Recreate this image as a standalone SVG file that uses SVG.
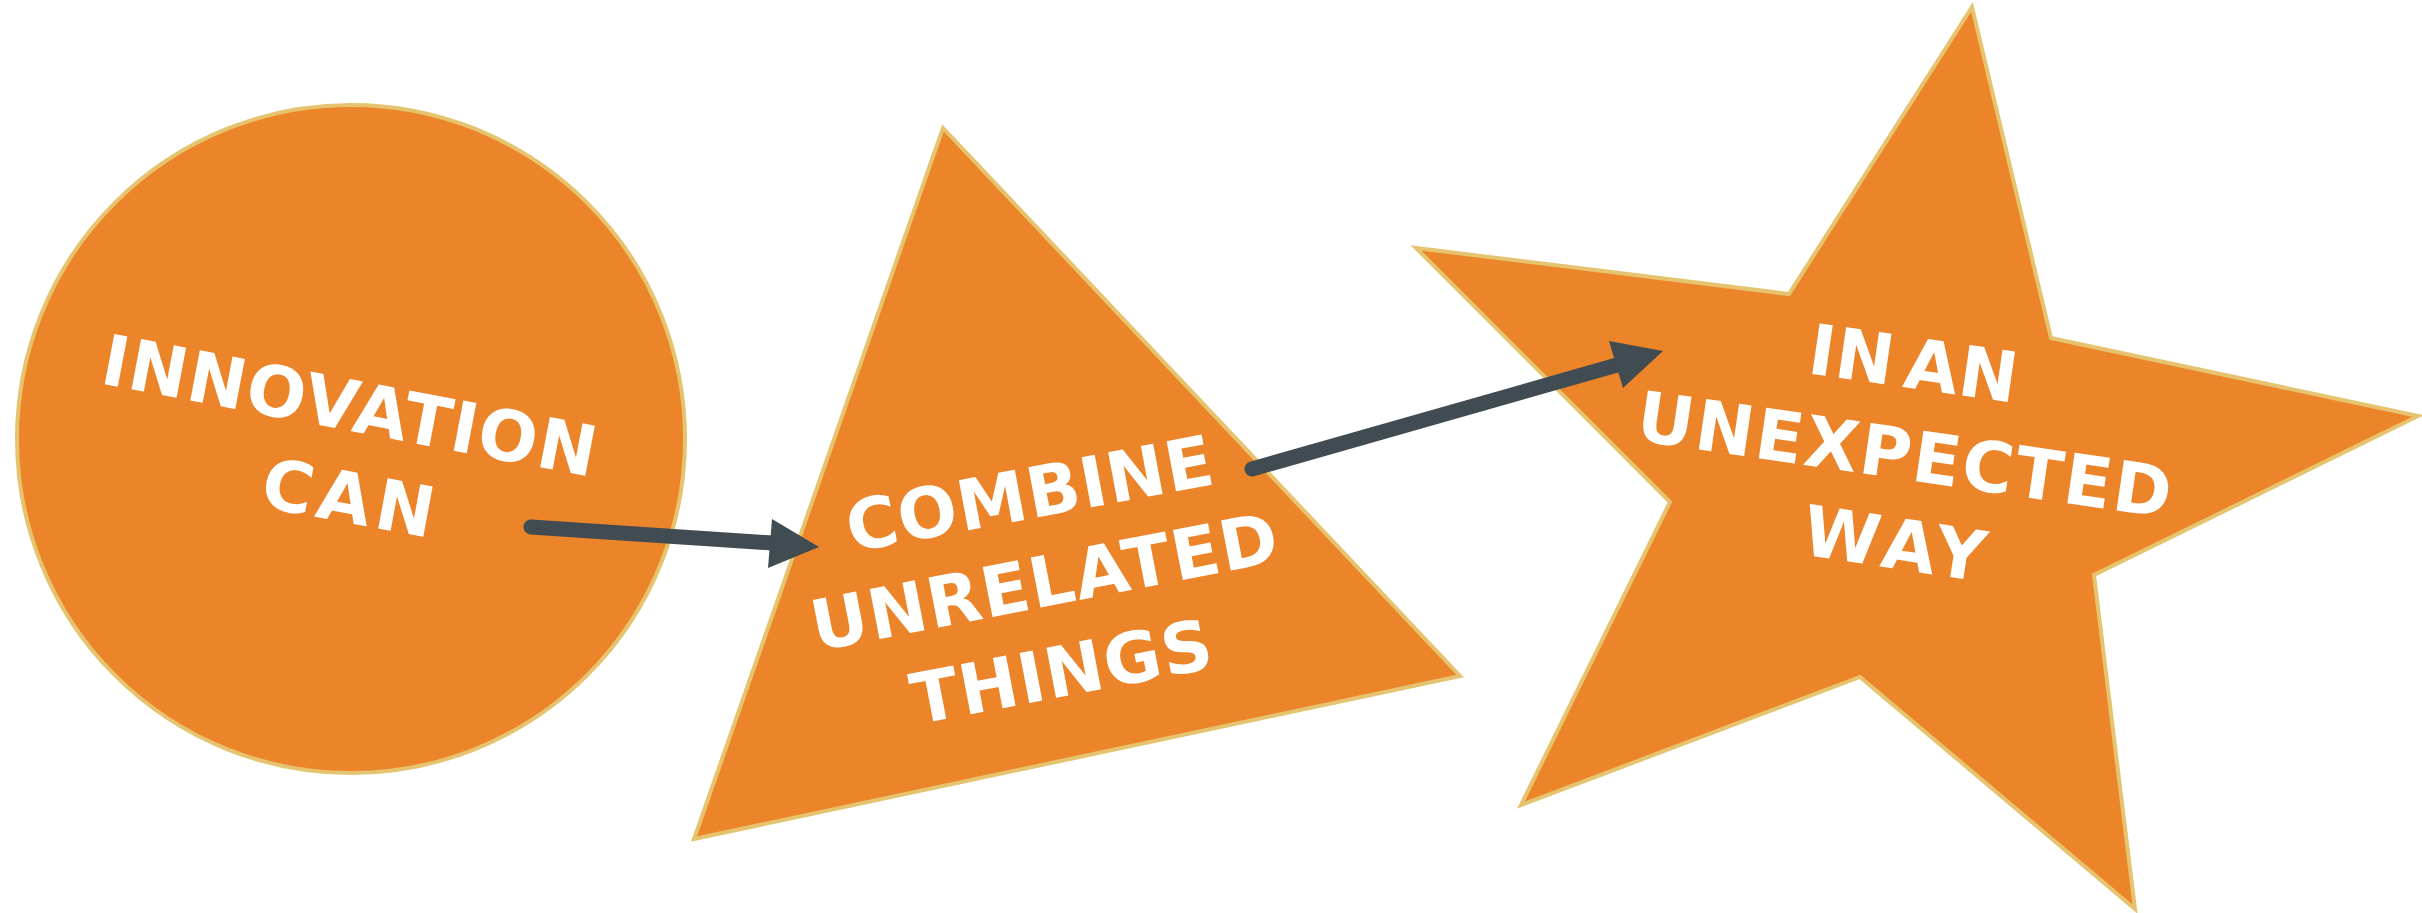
<svg xmlns="http://www.w3.org/2000/svg" width="2422" height="913" viewBox="0 0 2422 913">
  <defs>
    <style>
      .shape { fill: #EC8429; stroke: #E6C36F; stroke-width: 4; stroke-linejoin: miter; }
      .label { fill: #FFFFFF; font-family: "DejaVu Sans", "Liberation Sans", sans-serif; font-weight: bold; font-size: 70px; text-anchor: middle; }
      .conn { stroke: #414B52; stroke-width: 15; stroke-linecap: round; fill: none; }
      .head { fill: #414B52; }
    </style>
  </defs>
  <rect width="2422" height="913" fill="#FFFFFF"/>

  <g id="node-innovation">
    <circle class="shape" cx="351" cy="439" r="334"/>
    <text class="label" transform="translate(345,430) rotate(10.8)" textLength="502" lengthAdjust="spacing">INNOVATION</text>
    <text class="label" transform="translate(344,522) rotate(10.5)" textLength="174" lengthAdjust="spacing">CAN</text>
  </g>

  <g id="node-combine">
    <polygon class="shape" points="943,128 1460,676 694,839"/>
    <text class="label" transform="translate(1034,518) rotate(-10.6)" textLength="372" lengthAdjust="spacing">COMBINE</text>
    <text class="label" transform="translate(1049,606) rotate(-11)" textLength="474" lengthAdjust="spacing">UNRELATED</text>
    <text class="label" transform="translate(1066,696) rotate(-10.8)" textLength="305" lengthAdjust="spacing">THINGS</text>
  </g>

  <g id="node-unexpected">
    <polygon class="shape" points="1972,7 2051,338 2418,416 2094,575 2135,909 1860,677 1521,805 1670,502 1416,248 1789,294"/>
    <text class="label" transform="translate(1910,388) rotate(8.2)" word-spacing="-14" textLength="210" lengthAdjust="spacing">IN AN</text>
    <text class="label" transform="translate(1901,479) rotate(8.3)" textLength="539" lengthAdjust="spacing">UNEXPECTED</text>
    <text class="label" transform="translate(1891,568) rotate(8.7)" textLength="184" lengthAdjust="spacing">WAY</text>
  </g>

  <g id="connectors">
    <g id="edge-innovation-combine">
      <line class="conn" x1="531" y1="527" x2="772" y2="543"/>
      <polygon class="head" points="819,547 772,519 768,568"/>
    </g>
    <g id="edge-combine-unexpected">
      <line class="conn" x1="1252" y1="469" x2="1617" y2="365"/>
      <polygon class="head" points="1663,351 1609,341 1623,388"/>
    </g>
  </g>
</svg>
